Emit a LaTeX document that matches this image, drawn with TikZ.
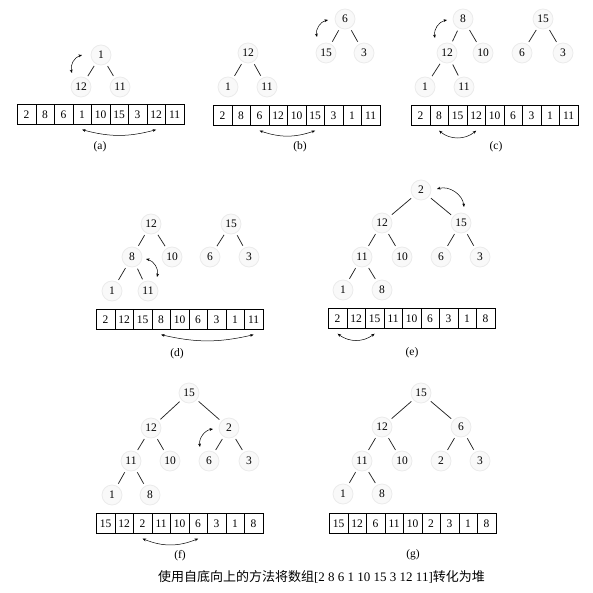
\documentclass[tikz,border=0pt]{standalone}
\usepackage{fontspec}
\setmainfont{Liberation Serif}
\newfontfamily\cjk{Noto Sans CJK SC}
\usetikzlibrary{arrows.meta,calc}
\tikzset{
 tn/.style={circle, minimum size=20pt, inner sep=0pt, fill=gray!5, draw=gray!16, line width=0.8pt, font=\fontsize{11.5}{12}\selectfont},
 edge/.style={draw=black!85, line width=0.75pt, shorten <=2.5pt, shorten >=2.5pt},
 cell/.style={draw, line width=0.7pt, minimum width=18.5pt, minimum height=20pt, inner sep=0pt, anchor=north west, font=\fontsize{11.5}{12}\selectfont},
 swp/.style={{Stealth[length=3.5pt,width=2.8pt]}-{Stealth[length=3.5pt,width=2.8pt]}, line width=0.5pt},
 lbl/.style={font=\fontsize{11.5}{12}\selectfont}
}
\newcommand\heaparr[3]{\foreach \v [count=\i from 0] in {#3} {\node[cell, xshift=\i*18.5pt] (#1\i) at (#2) {\v};}}
\begin{document}
\begin{tikzpicture}[x=1pt,y=1pt]
\useasboundingbox (0,0) rectangle (593,-593);
% ---------- (a)
\node[tn] (a1) at (101,-55) {1};
\node[tn] (a12) at (81,-87) {12};
\node[tn] (a11) at (120,-87) {11};
\draw[edge] (a1) -- (a12); \draw[edge] (a1) -- (a11);
\draw[swp] ($(a1)+(-19,0)$) to[bend right=45] ($(a12)+(-9,14)$);
\heaparr{aA}{17,-104}{2,8,6,1,10,15,3,12,11}
\draw[swp] ([yshift=-5pt]aA3.south) to[bend right=15] ([yshift=-5pt]aA7.south);
\node[lbl] (la) at (100,-147) {(a)};
% ---------- (b)
\node[tn] (b12) at (248,-53) {12};
\node[tn] (b1) at (228,-87) {1};
\node[tn] (b11) at (267,-87) {11};
\draw[edge] (b12) -- (b1); \draw[edge] (b12) -- (b11);
\node[tn] (b6) at (345,-19) {6};
\node[tn] (b15) at (326,-53) {15};
\node[tn] (b3) at (364,-53) {3};
\draw[edge] (b6) -- (b15); \draw[edge] (b6) -- (b3);
\draw[swp] ($(b6)+(-17,-1)$) to[bend right=45] ($(b15)+(-9,16)$);
\heaparr{bA}{213,-105}{2,8,6,12,10,15,3,1,11}
\draw[swp] ([yshift=-5pt]bA2.south) to[bend right=19] ([yshift=-5pt]bA5.south);
\node[lbl] (lb) at (300,-147) {(b)};
% ---------- (c)
\node[tn] (c8) at (463,-19) {8};
\node[tn] (c12) at (447,-53) {12};
\node[tn] (c10) at (483,-53) {10};
\node[tn] (c1) at (425,-87) {1};
\node[tn] (c11) at (464,-87) {11};
\draw[edge] (c8) -- (c12); \draw[edge] (c8) -- (c10);
\draw[edge] (c12) -- (c1); \draw[edge] (c12) -- (c11);
\node[tn] (c15) at (543,-19) {15};
\node[tn] (c6) at (522,-53) {6};
\node[tn] (c3) at (563,-53) {3};
\draw[edge] (c15) -- (c6); \draw[edge] (c15) -- (c3);
\draw[swp] ($(c8)+(-16,-1)$) to[bend right=45] ($(c12)+(-12,15)$);
\heaparr{cA}{411,-105}{2,8,15,12,10,6,3,1,11}
\draw[swp] ([yshift=-5pt]cA1.south) to[bend right=40] ([yshift=-5pt]cA3.south);
\node[lbl] (lc) at (496,-147) {(c)};
% ---------- (d)
\node[tn] (d12) at (151,-224) {12};
\node[tn] (d8) at (132,-257) {8};
\node[tn] (d10) at (172,-257) {10};
\node[tn] (d1) at (112,-291) {1};
\node[tn] (d11) at (148,-291) {11};
\draw[edge] (d12) -- (d8); \draw[edge] (d12) -- (d10);
\draw[edge] (d8) -- (d1); \draw[edge] (d8) -- (d11);
\node[tn] (d15) at (231,-224) {15};
\node[tn] (d6) at (210,-257) {6};
\node[tn] (d3) at (249,-257) {3};
\draw[edge] (d15) -- (d6); \draw[edge] (d15) -- (d3);
\draw[swp] ($(d8)+(14,-2)$) to[bend left=45] ($(d11)+(9,14)$);
\heaparr{dA}{96,-309}{2,12,15,8,10,6,3,1,11}
\draw[swp] ([yshift=-5pt]dA3.south) to[bend right=13] ([yshift=-5pt]dA8.south);
\node[lbl] (ld) at (177,-354) {(d)};
% ---------- (e)
\node[tn] (e2) at (421,-190) {2};
\node[tn] (e12) at (382,-223) {12};
\node[tn] (e15) at (461,-223) {15};
\node[tn] (e11) at (362,-257) {11};
\node[tn] (e10) at (402,-257) {10};
\node[tn] (e6) at (441,-257) {6};
\node[tn] (e3) at (480,-257) {3};
\node[tn] (e1) at (343,-290) {1};
\node[tn] (e8) at (382,-290) {8};
\draw[edge] (e2) -- (e12); \draw[edge] (e2) -- (e15);
\draw[edge] (e12) -- (e11); \draw[edge] (e12) -- (e10);
\draw[edge] (e15) -- (e6); \draw[edge] (e15) -- (e3);
\draw[edge] (e11) -- (e1); \draw[edge] (e11) -- (e8);
\draw[swp] ($(e2)+(16,1)$) to[bend left=50] ($(e15)+(3,16)$);
\heaparr{eA}{328,-308}{2,12,15,11,10,6,3,1,8}
\draw[swp] ([yshift=-5pt]eA0.south) to[bend right=37] ([yshift=-5pt]eA2.south);
\node[lbl] (le) at (412,-353) {(e)};
% ---------- (f)
\node[tn] (f15) at (189,-393) {15};
\node[tn] (f12) at (151,-428) {12};
\node[tn] (f2) at (229,-428) {2};
\node[tn] (f11) at (131,-461) {11};
\node[tn] (f10) at (170,-461) {10};
\node[tn] (f6) at (209,-461) {6};
\node[tn] (f3) at (249,-461) {3};
\node[tn] (f1) at (112,-495) {1};
\node[tn] (f8) at (150,-495) {8};
\draw[edge] (f15) -- (f12); \draw[edge] (f15) -- (f2);
\draw[edge] (f12) -- (f11); \draw[edge] (f12) -- (f10);
\draw[edge] (f2) -- (f6); \draw[edge] (f2) -- (f3);
\draw[edge] (f11) -- (f1); \draw[edge] (f11) -- (f8);
\draw[swp] ($(f2)+(-16,-1)$) to[bend right=45] ($(f6)+(-9,14)$);
\heaparr{fA}{96,-513}{15,12,2,11,10,6,3,1,8}
\draw[swp] ([yshift=-5pt]fA2.south) to[bend right=22] ([yshift=-5pt]fA5.south);
\node[lbl] (lf) at (180,-556) {(f)};
% ---------- (g)
\node[tn] (g15) at (421,-393) {15};
\node[tn] (g12) at (382,-427) {12};
\node[tn] (g6) at (461,-427) {6};
\node[tn] (g11) at (362,-461) {11};
\node[tn] (g10) at (402,-461) {10};
\node[tn] (g2) at (441,-461) {2};
\node[tn] (g3) at (480,-461) {3};
\node[tn] (g1) at (343,-494) {1};
\node[tn] (g8) at (382,-494) {8};
\draw[edge] (g15) -- (g12); \draw[edge] (g15) -- (g6);
\draw[edge] (g12) -- (g11); \draw[edge] (g12) -- (g10);
\draw[edge] (g6) -- (g2); \draw[edge] (g6) -- (g3);
\draw[edge] (g11) -- (g1); \draw[edge] (g11) -- (g8);
\heaparr{gA}{329,-513}{15,12,6,11,10,2,3,1,8}
\node[lbl] (lg) at (413,-555) {(g)};
% ---------- caption
\node[font=\fontsize{13}{14}\selectfont, inner sep=0pt] (cap) at (321.5,-577) {{\cjk 使用自底向上的方法将数组}[2 8 6 1 10 15 3 12 11]{\cjk 转化为堆}};
\end{tikzpicture}
\end{document}
